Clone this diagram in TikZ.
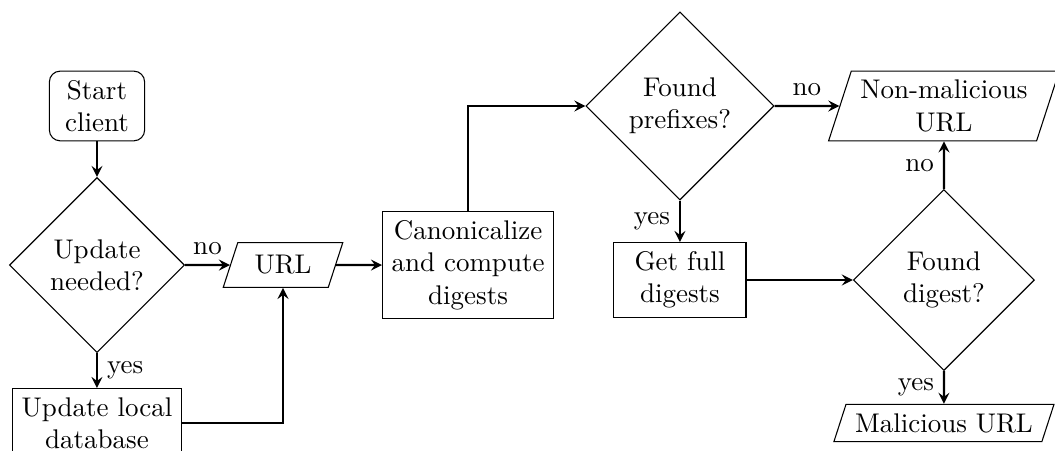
\documentclass[tikz,border=0pt]{standalone}
\usetikzlibrary{shapes.geometric,positioning}

\tikzset{
	startstop/.style={draw, rounded corners=4pt, align=center, minimum width=1.24cm},
	process/.style={draw, align=center},
	decision/.style={draw, diamond, aspect=1, align=center, inner sep=1pt},
	io/.style={draw, trapezium, trapezium left angle=72, trapezium right angle=108, align=center},
	flow/.style={->, >=stealth, thick}
}

\begin{document}
\begin{tikzpicture}[node distance=2cm,on grid]
	\useasboundingbox (0,0) rectangle (13.737,-5.872);
	\node[startstop] (start) at (1.263,-1.380) {Start\\client};
	\node[decision, minimum size=2.279cm] (update) [below=2.071cm of start] {Update\\needed?};
	\node[io, minimum width=1.56cm] (url) [right=2.422cm of update] {URL};
	\node[process] (canon) [right=2.409cm of url] {Canonicalize\\and compute\\digests};
	\node[decision, minimum size=2.448cm] (prefixes) [above right=2.071cm and 2.760cm of canon] {Found\\prefixes?};
	\node[process, minimum width=1.72cm] (getfull) [below=2.266cm of prefixes] {Get full\\digests};
	\node[io] (nonmal) [right=3.437cm of prefixes] {Non-malicious\\URL};
	\node[decision, minimum size=2.357cm] (digest) [below=2.266cm of nonmal] {Found\\digest?};
	\node[io] (mal) [below=1.862cm of digest] {Malicious URL};
	\node[process] (localdb) [below=2.06cm of update] {Update local\\database};
	\path[flow]
	(start) edge (update)
	(update) edge node [above] {no} (url)
	         edge node [right] {yes} (localdb)
	(url) edge (canon)
	(prefixes) edge node [above] {no} (nonmal)
	           edge node [left] {yes} (getfull)
	(getfull) edge (digest)
	(digest) edge node [left] {no} (nonmal)
	         edge node [left] {yes} (mal);
	\draw[flow] (localdb.east) -| (url.south);
	\draw[flow] (canon.north) |- (prefixes.west);
\end{tikzpicture}
\end{document}
